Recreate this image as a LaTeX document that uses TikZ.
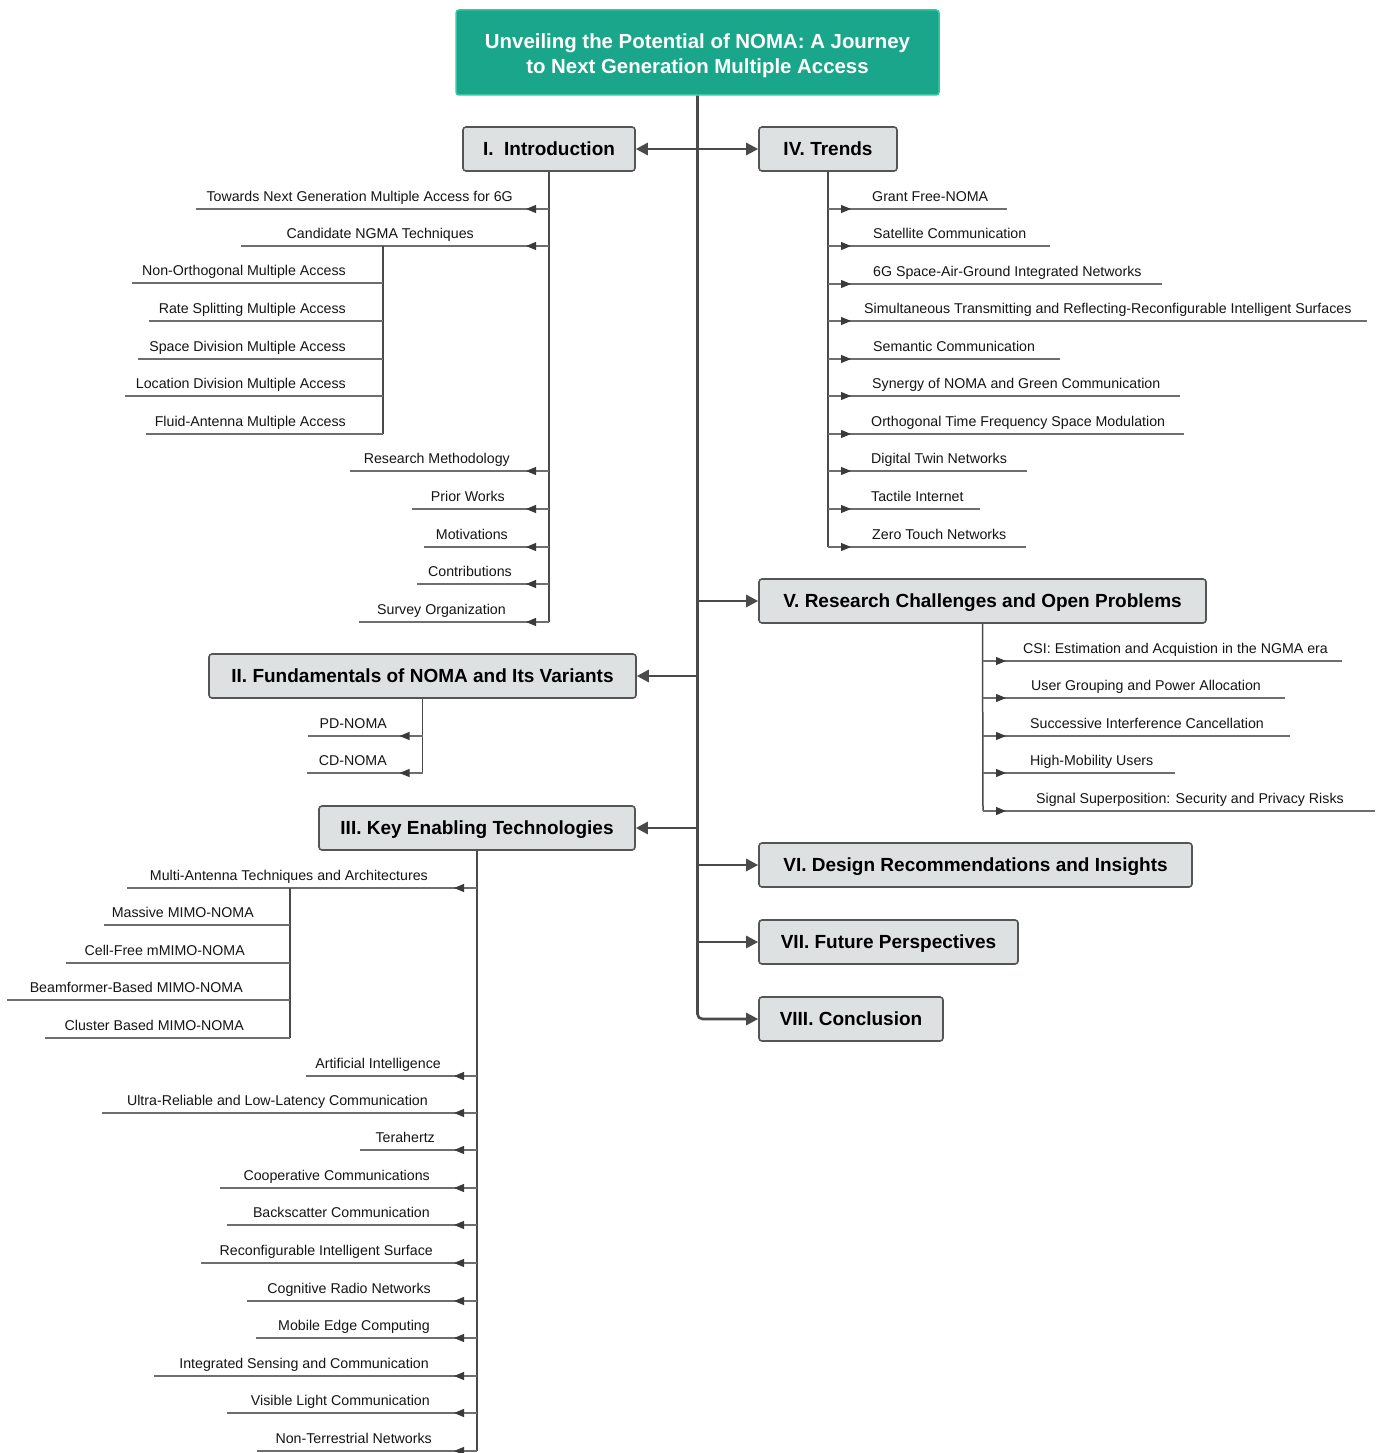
\documentclass[tikz,border=0pt]{standalone}
\usepackage{fontspec}
\setmainfont{Liberation Sans}
\usetikzlibrary{arrows.meta,decorations.markings}
\definecolor{teal1}{HTML}{1AA68A}
\definecolor{teal2}{HTML}{35C7A3}
\definecolor{boxfill}{HTML}{DEE1E2}
\definecolor{boxline}{HTML}{555555}
\definecolor{trunkc}{HTML}{4A4A4A}
\definecolor{linegray}{HTML}{6E6E6E}
\definecolor{tipc}{HTML}{3A3A3A}
\begin{document}
\begin{tikzpicture}[x=1pt,y=-1pt,
  leaf/.style={font=\fontsize{14.2}{16}\selectfont, inner sep=0pt, anchor=base east, text=black!92},
  leafr/.style={leaf, anchor=base west},
  branch/.style={draw=linegray, line width=1.1pt},
  stem/.style={draw=trunkc, line width=1.5pt},
  arrL/.style={branch, postaction={decorate}, decoration={markings, mark=at position 23pt with {\arrow[tipc]{Triangle[length=10pt,width=8pt]}}}},
  sec/.style={draw=boxline, fill=boxfill, line width=1.6pt, rounded corners=3pt, font=\fontsize{19}{22}\selectfont\bfseries, inner sep=0pt, minimum height=44, text height=13.6, text depth=0},
  trunk/.style={draw=trunkc, line width=2.6pt},
  mainarrow/.style={trunk, -{Triangle[length=12pt,width=12pt]}},
]
\useasboundingbox (0,0) rectangle (1380,1453);

% title
\node[draw=teal2, fill=teal1, line width=1.5pt, rounded corners=3pt, minimum width=483, minimum height=85, inner sep=0pt,
      text=white, font=\fontsize{20.4}{25}\selectfont\bfseries, align=center] (title) at (697.5,52.5)
      {\rule{0pt}{21pt}Unveiling the Potential of NOMA: A Journey\\to Next Generation Multiple Access};

% section boxes
\node[sec, minimum width=172] (s1) at (549,149) {I.\ \ Introduction};
\node[sec, minimum width=138] (s4) at (828,149) {IV. Trends};
\node[sec, minimum width=447] (s5) at (982.5,601) {V. Research Challenges and Open Problems};
\node[sec, minimum width=427] (s2) at (422.5,676) {II. Fundamentals of NOMA and Its Variants};
\node[sec, minimum width=316] (s3) at (477,828) {III. Key Enabling Technologies};
\node[sec, minimum width=433] (s6) at (975.5,865) {VI. Design Recommendations and Insights};
\node[sec, minimum width=259] (s7) at (888.5,942) {VII. Future Perspectives};
\node[sec, minimum width=184] (s8) at (851,1019) {VIII. Conclusion};

% trunk
\coordinate (j1) at (697.5,149);
\coordinate (j5) at (697.5,601);
\coordinate (j2) at (697.5,676);
\coordinate (j3) at (697.5,828);
\coordinate (j6) at (697.5,865);
\coordinate (j7) at (697.5,942);
\draw[mainarrow, rounded corners=5pt] (title.south) |- (s8.west);
\draw[mainarrow] (j1) -- (s1.east);
\draw[mainarrow] (j1) -- (s4.west);
\draw[mainarrow] (j5) -- (s5.west);
\draw[mainarrow] (j2) -- (s2.east);
\draw[mainarrow] (j3) -- (s3.east);
\draw[mainarrow] (j6) -- (s6.west);
\draw[mainarrow] (j7) -- (s7.west);

% ---------- I. Introduction ----------
\coordinate (s1end) at (549,622);
\draw[stem, rounded corners=2pt] (s1.south) -- (s1end);
\foreach \y/\lx/\tx/\t [count=\i] in {
  209/196/513/Towards Next Generation Multiple Access for 6G,
  246/241/474/Candidate NGMA Techniques,
  471/350/510/Research Methodology,
  509/412/505/Prior Works,
  547/424/508/Motivations,
  584/417/512/Contributions,
  622/359/506/Survey Organization}{
  \node[leaf] (a\i) at (\tx,\y-8) {\t};
  \coordinate (aS\i) at (549,\y);
  \coordinate (aE\i) at (\lx,\y);
  \draw[arrL] (aS\i) -- (aE\i);
}
\coordinate (ngmaS) at (383,246);
\coordinate (ngmaE) at (383,434);
\draw[stem] (ngmaS) -- (ngmaE);
\foreach \y/\lx/\tx/\t [count=\i] in {
  283/132/346/Non-Orthogonal Multiple Access,
  321/149/346/Rate Splitting Multiple Access,
  359/138/346/Space Division Multiple Access,
  396/125/346/Location Division Multiple Access,
  434/146/346/Fluid-Antenna Multiple Access}{
  \node[leaf] (b\i) at (\tx,\y-8) {\t};
  \coordinate (bS\i) at (383,\y);
  \coordinate (bE\i) at (\lx,\y);
  \draw[branch] (bS\i) -- (bE\i);
}

% ---------- IV. Trends ----------
\coordinate (s4end) at (828,547);
\draw[stem] (s4.south) -- (s4end);
\foreach \y/\rx/\tx/\t [count=\i] in {
  209/1007/872/Grant Free-NOMA,
  246/1050/873/Satellite Communication,
  284/1162/873/6G Space-Air-Ground Integrated Networks,
  321/1367/864/Simultaneous Transmitting and Reflecting-Reconfigurable Intelligent Surfaces,
  359/1060/873/Semantic Communication,
  396/1180/872/Synergy of NOMA and Green Communication,
  434/1184/871/Orthogonal Time Frequency Space Modulation,
  471/1027/871/Digital Twin Networks,
  509/980/871/Tactile Internet,
  547/1026/872/Zero Touch Networks}{
  \node[leafr] (d\i) at (\tx,\y-8) {\t};
  \coordinate (dS\i) at (828,\y);
  \coordinate (dE\i) at (\rx,\y);
  \draw[arrL] (dS\i) -- (dE\i);
}

% ---------- V. Research Challenges ----------
\coordinate (s5end) at (983,811);
\draw[stem] (s5.south) -- (s5end);
\foreach \y/\rx/\tx/\t [count=\i] in {
  661/1342/1023/CSI: Estimation and Acquistion in the NGMA era,
  698/1285/1031/User Grouping and Power Allocation,
  736/1290/1030/Successive Interference Cancellation,
  773/1175/1030/High-Mobility Users,
  811/1375/1036/Signal Superposition: Security and Privacy Risks}{
  \node[leafr] (e\i) at (\tx,\y-8) {\t};
  \coordinate (eS\i) at (983,\y);
  \coordinate (eE\i) at (\rx,\y);
  \draw[arrL] (eS\i) -- (eE\i);
}

% ---------- II. Fundamentals ----------
\coordinate (s2end) at (422.5,773);
\draw[stem] (s2.south) -- (s2end);
\foreach \y/\lx/\tx/\t [count=\i] in {
  736/308/387/PD-NOMA,
  773/307/387/CD-NOMA}{
  \node[leaf] (f\i) at (\tx,\y-8) {\t};
  \coordinate (fS\i) at (422.5,\y);
  \coordinate (fE\i) at (\lx,\y);
  \draw[arrL] (fS\i) -- (fE\i);
}

% ---------- III. Key Enabling Technologies ----------
\coordinate (s3end) at (477,1451);
\draw[stem] (s3.south) -- (s3end);
\foreach \y/\lx/\tx/\t [count=\i] in {
  888/127/428/Multi-Antenna Techniques and Architectures,
  1076/306/441/Artificial Intelligence,
  1113/102/428/Ultra-Reliable and Low-Latency Communication,
  1150/360/435/Terahertz,
  1188/220/430/Cooperative Communications,
  1225/227/430/Backscatter Communication,
  1263/201/433/Reconfigurable Intelligent Surface,
  1301/247/431/Cognitive Radio Networks,
  1338/256/430/Mobile Edge Computing,
  1376/154/429/Integrated Sensing and Communication,
  1413/227/430/Visible Light Communication,
  1451/257/432/Non-Terrestrial Networks}{
  \node[leaf] (g\i) at (\tx,\y-8) {\t};
  \coordinate (gS\i) at (477,\y);
  \coordinate (gE\i) at (\lx,\y);
  \draw[arrL] (gS\i) -- (gE\i);
}
\coordinate (mimoS) at (290,888);
\coordinate (mimoE) at (290,1038);
\draw[stem] (mimoS) -- (mimoE);
\foreach \y/\lx/\tx/\t [count=\i] in {
  925/104/254/Massive MIMO-NOMA,
  963/66/245/Cell-Free mMIMO-NOMA,
  1000/7/243/Beamformer-Based MIMO-NOMA,
  1038/45/244/Cluster Based MIMO-NOMA}{
  \node[leaf] (h\i) at (\tx,\y-8) {\t};
  \coordinate (hS\i) at (290,\y);
  \coordinate (hE\i) at (\lx,\y);
  \draw[branch] (hS\i) -- (hE\i);
}
\end{tikzpicture}
\end{document}
